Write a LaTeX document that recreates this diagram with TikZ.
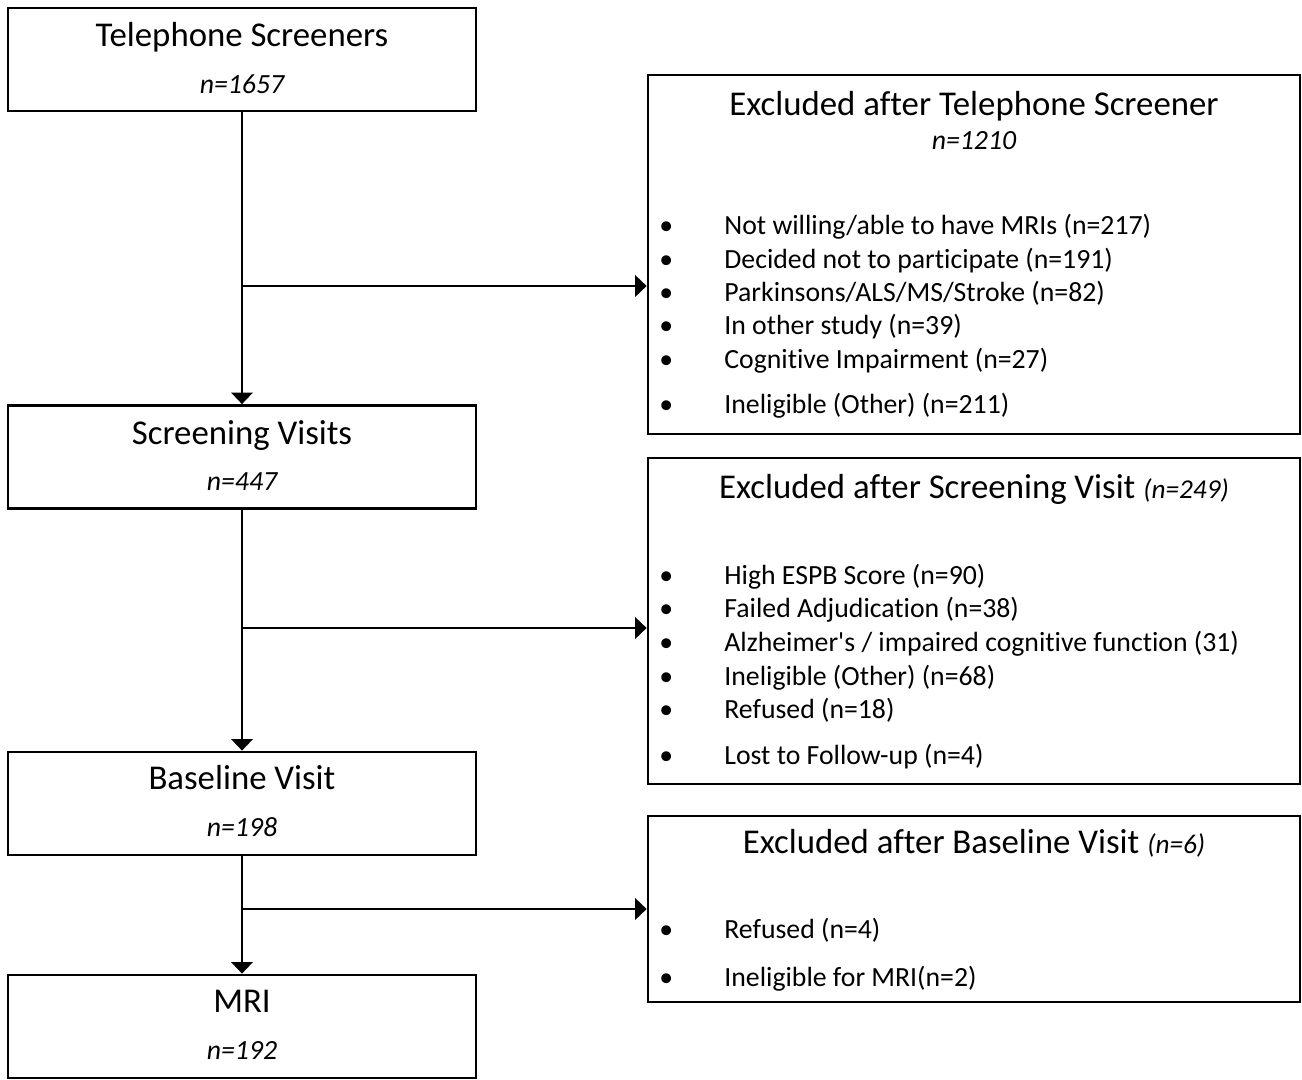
\documentclass[tikz,border=0pt]{standalone}
\usepackage{fontspec}
\setmainfont{Carlito}[Ligatures=CommonOff]
\usetikzlibrary{arrows.meta,positioning,calc}

\begin{document}
\begin{tikzpicture}[x=0.02cm,y=-0.02cm,line width=1.6pt,
   >={Triangle[length=6.5pt,width=12pt]},
   bx/.style={draw,rectangle,minimum width=9.36cm,minimum height=2.06cm,inner sep=0pt},
   ex/.style={draw,rectangle,minimum width=13.04cm,inner sep=0pt},
   ttl/.style={anchor=base,inner sep=0pt,font=\fontsize{19.8}{24}\selectfont},
   num/.style={anchor=base,inner sep=0pt,font=\fontsize{15.8}{19}\selectfont\itshape},
   itm/.style={anchor=base west,inner sep=0pt,font=\fontsize{15.8}{19}\selectfont}]
  \useasboundingbox (0,0) rectangle (1302,1079);
  % main stages
  \node[bx] (tele) at (242,59.5) {};
  \node[ttl] (teleT) at (242,46) {Telephone Screeners};
  \node[num] (teleN) at (242,93) {n=1657};
  \node[bx] (scr) at (242,457) {};
  \node[ttl] (scrT) at (242,444) {Screening Visits};
  \node[num] (scrN) at (242,490) {n=447};
  \node[bx] (base) at (242,803.5) {};
  \node[ttl] (baseT) at (242,789) {Baseline Visit};
  \node[num] (baseN) at (242,836) {n=198};
  \node[bx] (mri) at (242,1026.5) {};
  \node[ttl] (mriT) at (242,1012) {MRI};
  \node[num] (mriN) at (242,1059) {n=192};
  % exclusion boxes
  \node[ex,minimum height=7.18cm] (ex1) at (974,254.5) {};
  \node[ttl] (ex1T) at (974,115) {Excluded after Telephone Screener};
  \node[num] (ex1N) at (974,149) {n=1210};
  \node[itm] (a1) at (658,234) {\makebox[1.3cm][l]{\textbullet}Not willing/able to have MRIs (n=217)};
  \node[itm] (a2) at (658,268) {\makebox[1.3cm][l]{\textbullet}Decided not to participate (n=191)};
  \node[itm] (a3) at (658,301) {\makebox[1.3cm][l]{\textbullet}Parkinsons/ALS/MS/Stroke (n=82)};
  \node[itm] (a4) at (658,334) {\makebox[1.3cm][l]{\textbullet}In other study (n=39)};
  \node[itm] (a5) at (658,368) {\makebox[1.3cm][l]{\textbullet}Cognitive Impairment (n=27)};
  \node[itm] (a6) at (658,413) {\makebox[1.3cm][l]{\textbullet}Ineligible (Other) (n=211)};
  \node[ex,minimum height=6.52cm] (ex2) at (974,621) {};
  \node[ttl] (ex2T) at (974,498) {Excluded after Screening Visit {\fontsize{15.5}{18}\selectfont\itshape(n=249)}};
  \node[itm] (b1) at (658,584) {\makebox[1.3cm][l]{\textbullet}High ESPB Score (n=90)};
  \node[itm] (b2) at (658,617) {\makebox[1.3cm][l]{\textbullet}Failed Adjudication (n=38)};
  \node[itm] (b3) at (658,651) {\makebox[1.3cm][l]{\textbullet}Alzheimer\textquotesingle s / impaired cognitive function (31)};
  \node[itm] (b4) at (658,685) {\makebox[1.3cm][l]{\textbullet}Ineligible (Other) (n=68)};
  \node[itm] (b5) at (658,718) {\makebox[1.3cm][l]{\textbullet}Refused (n=18)};
  \node[itm] (b6) at (658,764) {\makebox[1.3cm][l]{\textbullet}Lost to Follow-up (n=4)};
  \node[ex,minimum height=3.72cm] (ex3) at (974,909) {};
  \node[ttl] (ex3T) at (974,853) {Excluded after Baseline Visit {\fontsize{15.5}{18}\selectfont\itshape(n=6)}};
  \node[itm] (c1) at (658,938) {\makebox[1.3cm][l]{\textbullet}Refused (n=4)};
  \node[itm] (c2) at (658,986) {\makebox[1.3cm][l]{\textbullet}Ineligible for MRI(n=2)};
  % flow
  \coordinate (j1) at (242,286);
  \coordinate (j2) at (242,628);
  \coordinate (j3) at (242,909);
  \draw[->] (tele) -- (scr);
  \draw[->] (scr) -- (base);
  \draw[->] (base) -- (mri);
  \draw[->] (j1) -- (j1 -| ex1.west);
  \draw[->] (j2) -- (j2 -| ex2.west);
  \draw[->] (j3) -- (j3 -| ex3.west);
\end{tikzpicture}
\end{document}
